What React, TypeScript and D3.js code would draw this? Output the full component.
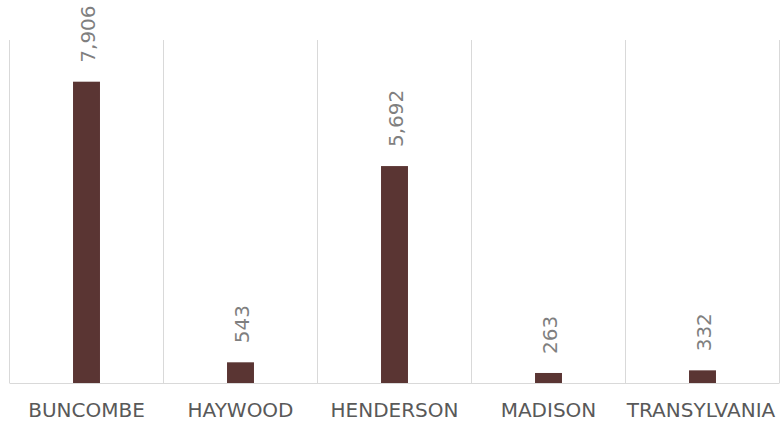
import React from "react";
import * as d3 from "d3";

const categories = ["BUNCOMBE", "HAYWOOD", "HENDERSON", "MADISON", "TRANSYLVANIA"];
const values = [7906, 543, 5692, 263, 332];
const yMax = 9000;

const W = 780;
const H = 422;
const left = 9.5;
const right = 779.5;
const top = 40;
const bottom = 383;

export default function App() {
  const x = d3.scaleBand<string>().domain(categories).range([left, right]).padding(0);
  const y = d3.scaleLinear().domain([0, yMax]).range([bottom, top]);
  const bw = x.bandwidth() * 0.175;
  const fmt = d3.format(",");
  const font = "'DejaVu Sans', Verdana, sans-serif";
  const gridX = categories.map((c) => x(c)!).concat([right]);
  return (
    <svg width={W} height={H} style={{ position: "absolute", left: 0, top: 0 }}>
      <rect x={0} y={0} width={W} height={H} fill="#ffffff" />
      {gridX.map((gx, i) => (
        <line key={i} x1={gx} x2={gx} y1={top} y2={bottom} stroke="#d9d9d9" strokeWidth={1} />
      ))}
      <line x1={left} x2={right} y1={bottom + 0.5} y2={bottom + 0.5} stroke="#d9d9d9" strokeWidth={1} />
      {categories.map((c, i) => {
        const cx = x(c)! + x.bandwidth() / 2;
        const yt = y(values[i]);
        const lx = i === categories.length - 1 ? Math.min(cx, 701) : cx;
        return (
          <g key={c}>
            <rect x={cx - bw / 2} y={yt} width={bw} height={bottom - yt} fill="#5a3533" />
            <text
              transform={`translate(${cx + 1},${yt - 19}) rotate(-90)`}
              dy="0.35em"
              textAnchor="start"
              fontFamily={font}
              fontSize={20}
              fill="#7f7f7f"
            >
              {fmt(values[i])}
            </text>
            <text x={lx} y={417} textAnchor="middle" fontFamily={font} fontSize={20} fill="#595959">
              {c}
            </text>
          </g>
        );
      })}
    </svg>
  );
}
